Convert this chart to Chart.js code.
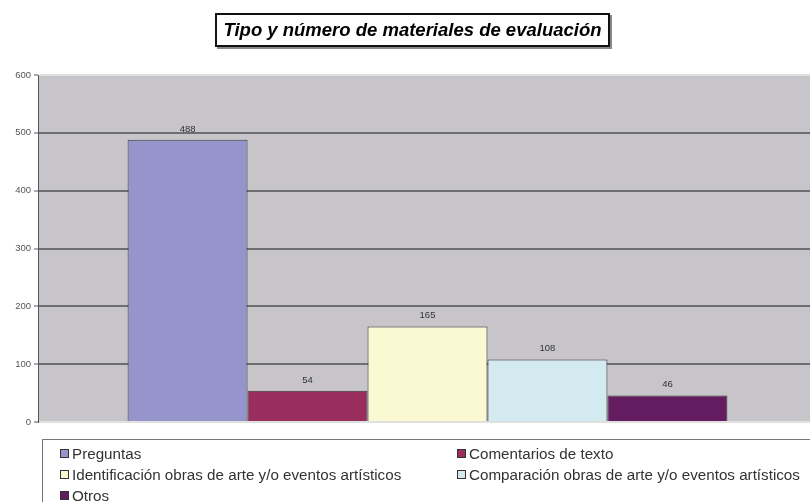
<!DOCTYPE html>
<html>
<head>
<meta charset="utf-8">
<script src="https://cdn.jsdelivr.net/npm/chart.js@4"></script>
<style>
  body { margin: 0; background: #fff; font-family: "Liberation Sans", Arial, sans-serif; }
  #wrap { position: relative; width: 810px; height: 502px; overflow: hidden; }
  #chart { position: absolute; left: 0; top: 0; }
  #title {
    position: absolute; left: 215px; top: 13px; width: 391px; height: 30px;
    border: 2px solid #111; box-shadow: 2px 2px 0 #888;
    font-weight: bold; font-style: italic; font-size: 18.5px; line-height: 30px;
    text-align: center; color: #000; background: #fff;
  }
  #legend {
    position: absolute; left: 42px; top: 439px; width: 790px; height: 80px;
    border: 1px solid #777; box-shadow: 1px 1px 0 #bbb; background: #fff;
  }
  .item { position: absolute; font-size: 15.2px; line-height: 17px; color: #333; white-space: nowrap; }
  .sw { display: inline-block; width: 7px; height: 7px; border: 1px solid #333; margin-right: 3px; vertical-align: 1px; }
</style>
</head>
<body>
<div id="wrap">
  <canvas id="chart" width="817" height="502"></canvas>
  <div id="title">Tipo y número de materiales de evaluación</div>
  <div id="legend"></div>
</div>
<script>
const categories = ["Materiales"];
const seriesNames = [
  "Preguntas",
  "Comentarios de texto",
  "Identificación obras de arte y/o eventos artísticos",
  "Comparación obras de arte y/o eventos artísticos",
  "Otros",
];
const seriesValues = [488, 54, 165, 108, 46];
const seriesColors = ["#9594cb", "#992e5e", "#fbf9d2", "#d3ebf0", "#621c5f"];
const yTicks = [0, 100, 200, 300, 400, 500, 600];

const chartCanvas = document.getElementById("chart");

// fondo gris del área de trazado
const plotBackground = {
  id: "plotBackground",
  beforeDraw(chart) {
    const { ctx, chartArea } = chart;
    ctx.save();
    ctx.fillStyle = "#c7c5c9";
    ctx.fillRect(chartArea.left, chartArea.top, chartArea.right - chartArea.left, chartArea.bottom - chartArea.top);
    ctx.restore();
  },
};

// etiquetas de valor encima de cada barra
const valueLabels = {
  id: "valueLabels",
  afterDatasetsDraw(chart) {
    const { ctx } = chart;
    ctx.save();
    ctx.font = "9.5px 'Liberation Sans Narrow', 'Liberation Sans', Arial, sans-serif";
    ctx.fillStyle = "#333";
    ctx.textAlign = "center";
    ctx.textBaseline = "bottom";
    chart.data.datasets.forEach((ds, i) => {
      chart.getDatasetMeta(i).data.forEach((bar, j) => {
        ctx.fillText(ds.data[j], bar.x, bar.y - 6);
      });
    });
    ctx.restore();
  },
};

new Chart(chartCanvas, {
  type: "bar",
  data: {
    labels: categories,
    datasets: seriesNames.map((name, i) => ({
      label: name,
      data: [seriesValues[i]],
      backgroundColor: seriesColors[i],
      borderColor: "#3a3a3a",
      borderWidth: 1,
      barPercentage: 1,
      categoryPercentage: 0.77,
    })),
  },
  options: {
    responsive: false,
    animation: false,
    layout: { padding: { top: 75, bottom: 80, left: 0, right: 0 } },
    plugins: {
      legend: { display: false },
      title: { display: false },
      tooltip: { enabled: false },
    },
    scales: {
      x: { display: false },
      y: {
        min: 0,
        max: 600,
        afterBuildTicks: (axis) => {
          axis.ticks = yTicks.map((v) => ({ value: v }));
        },
        afterFit: (axis) => {
          axis.width = 38;
        },
        border: { color: "#555", width: 1 },
        grid: {
          color: (c) => (c.tick.value === 0 || c.tick.value === 600 ? "#e0e0e0" : "#6e6e6e"),
          lineWidth: 2,
          tickColor: "#555",
          tickLength: 4,
          tickWidth: 1,
        },
        ticks: {
          font: { size: 9.5, family: "'Liberation Sans Narrow', 'Liberation Sans', Arial" },
          color: "#555",
          padding: 3,
        },
      },
    },
  },
  plugins: [plotBackground, valueLabels],
});

// leyenda en dos columnas
const legend = document.getElementById("legend");
seriesNames.forEach((name, i) => {
  const item = document.createElement("div");
  item.className = "item";
  item.style.left = (i % 2 === 0 ? 17 : 414) + "px";
  item.style.top = (5 + Math.floor(i / 2) * 21) + "px";
  const sw = document.createElement("span");
  sw.className = "sw";
  sw.style.background = seriesColors[i];
  item.appendChild(sw);
  item.appendChild(document.createTextNode(name));
  legend.appendChild(item);
});
</script>
</body>
</html>
